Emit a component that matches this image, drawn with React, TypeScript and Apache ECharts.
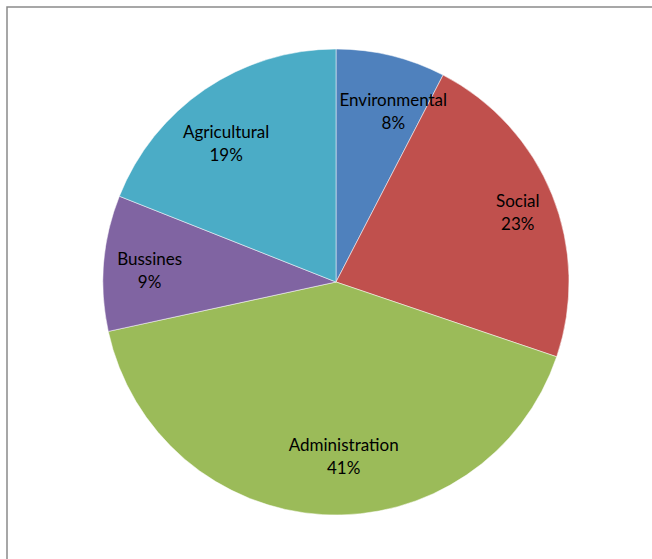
import React, { useEffect, useRef } from "react";
import * as echarts from "echarts";

const categories = ["Environmental", "Social", "Administration", "Bussines", "Agricultural"];
const values = [7.6, 22.6, 41.4, 9.4, 19.0];
const colors = ["#4F81BD", "#C0504D", "#9BBB59", "#8064A2", "#4BACC6"];
const labelOffsets: [number, number][] = [[14, 7], [12, -2], [18, -9], [-4, 3], [-7, 12]];

export default function App() {
  const ref = useRef<HTMLDivElement>(null);
  useEffect(() => {
    if (!ref.current) return;
    const chart = echarts.init(ref.current, undefined, { renderer: "svg" });
    const total = values.reduce((a, b) => a + b, 0);
    const pieData = categories.map((name, i) => ({
      name,
      value: values[i],
      itemStyle: { color: colors[i] },
    }));
    const labelData = categories.map((name, i) => ({
      name,
      value: values[i],
      label: { offset: labelOffsets[i] },
    }));
    chart.setOption({
      animation: false,
      backgroundColor: "#ffffff",
      graphic: [
        {
          type: "rect",
          shape: { x: 7, y: 7, width: 700, height: 600 },
          style: { fill: "none", stroke: "#8a8a8a", lineWidth: 1.5 },
          silent: true,
        },
      ],
      series: [
        {
          type: "pie",
          center: [336, 282],
          radius: [0, 233],
          startAngle: 90,
          clockwise: true,
          silent: true,
          label: { show: false },
          labelLine: { show: false },
          itemStyle: { borderColor: "#ffffff", borderWidth: 0.5 },
          emphasis: { disabled: true },
          data: pieData,
        },
        {
          type: "pie",
          center: [336, 282],
          radius: [0, 360],
          startAngle: 90,
          clockwise: true,
          silent: true,
          z: 5,
          itemStyle: { color: "transparent", borderWidth: 0 },
          labelLine: { show: false },
          emphasis: { disabled: true },
          label: {
            show: true,
            position: "inside",
            fontFamily: "Lato",
            fontSize: 17,
            lineHeight: 23,
            color: "#000000",
            align: "center",
            formatter: (p: any) => `${p.name}\n${Math.round((p.value / total) * 100)}%`,
          },
          data: labelData,
        },
      ],
    });
    return () => chart.dispose();
  }, []);
  return (
    <div
      ref={ref}
      style={{ position: "absolute", left: 0, top: 0, width: 652, height: 559 }}
    />
  );
}
